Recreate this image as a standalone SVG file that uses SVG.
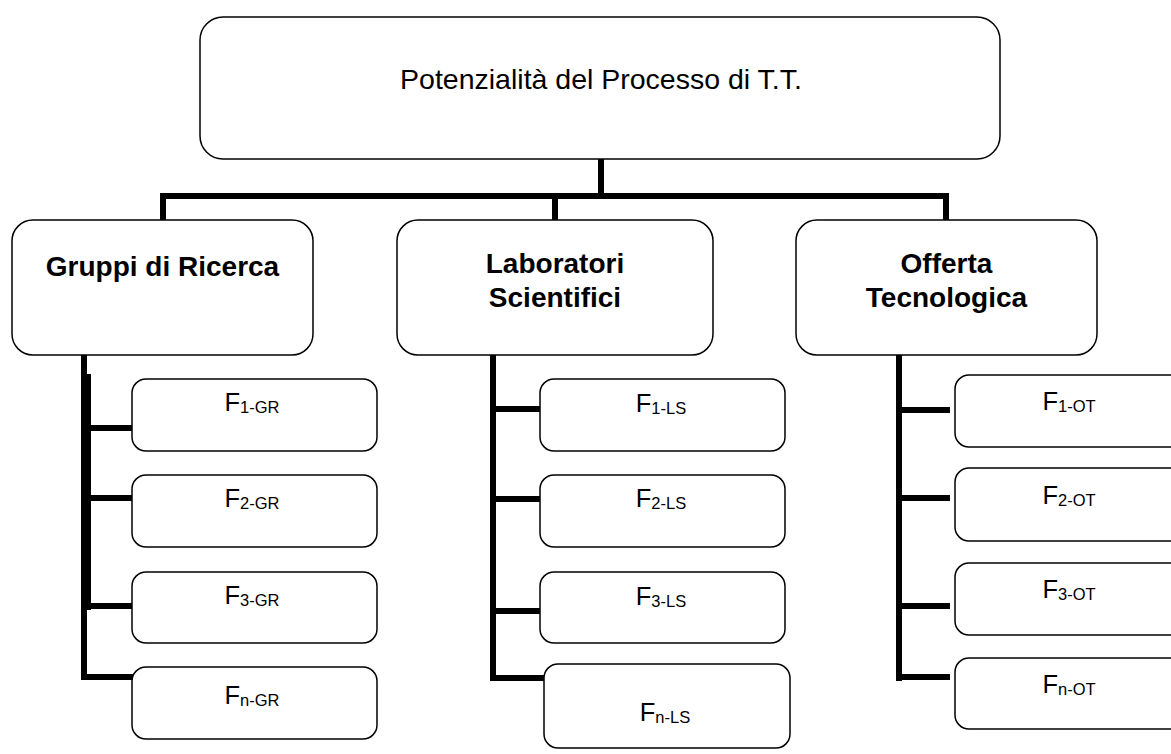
<svg xmlns="http://www.w3.org/2000/svg" width="1171" height="754" viewBox="0 0 1171 754">
  <style>
    .box { fill: #ffffff; stroke: #000000; stroke-width: 1.5; }
    .bar { fill: #000000; }
    .title { font-family: "Liberation Sans", Arial, sans-serif; font-size: 28.5px; fill: #000000; text-anchor: middle; }
    .head { font-family: "Liberation Sans", Arial, sans-serif; font-size: 28px; font-weight: bold; fill: #000000; text-anchor: middle; }
    .fac { font-family: "Liberation Sans", Arial, sans-serif; font-size: 25.5px; fill: #000000; text-anchor: middle; }
    .sub { font-size: 16.5px; }
  </style>
  <rect width="1171" height="754" fill="#ffffff"/>

  <!-- connectors: thick black elbow lines -->
  <g id="connectors">
    <!-- root to first level -->
    <rect class="bar" x="598" y="158" width="6" height="41"/>
    <rect class="bar" x="160" y="193" width="789" height="6"/>
    <rect class="bar" x="160" y="193" width="6" height="28"/>
    <rect class="bar" x="552" y="193" width="6" height="28"/>
    <rect class="bar" x="943" y="193" width="6" height="28"/>
    <!-- Gruppi di Ricerca branch -->
    <rect class="bar" x="81" y="355" width="6" height="325"/>
    <rect class="bar" x="85" y="374" width="6" height="236"/>
    <rect class="bar" x="88" y="425" width="50" height="6"/>
    <rect class="bar" x="88" y="495" width="46" height="6"/>
    <rect class="bar" x="85" y="603" width="53" height="6"/>
    <rect class="bar" x="81" y="674" width="53" height="6"/>
    <!-- Laboratori Scientifici branch -->
    <rect class="bar" x="490" y="355" width="6" height="326"/>
    <rect class="bar" x="490" y="406" width="53" height="6"/>
    <rect class="bar" x="490" y="496" width="53" height="6"/>
    <rect class="bar" x="490" y="608" width="53" height="6"/>
    <rect class="bar" x="490" y="675" width="54" height="6"/>
    <!-- Offerta Tecnologica branch -->
    <rect class="bar" x="896" y="355" width="6" height="326"/>
    <rect class="bar" x="896" y="407" width="54" height="6"/>
    <rect class="bar" x="896" y="495" width="54" height="6"/>
    <rect class="bar" x="896" y="603" width="54" height="6"/>
    <rect class="bar" x="896" y="674" width="54" height="6"/>
  </g>

  <!-- root -->
  <g id="root">
    <rect class="box" x="200" y="17" width="800" height="142" rx="23" ry="23"/>
    <text class="title" x="601" y="89">Potenzialità del Processo di T.T.</text>
  </g>

  <!-- first level -->
  <g id="gruppi">
    <rect class="box" x="12" y="220" width="301" height="135" rx="21" ry="21"/>
    <text class="head" x="162.5" y="276">Gruppi di Ricerca</text>
  </g>
  <g id="laboratori">
    <rect class="box" x="397" y="220" width="316" height="135" rx="21" ry="21"/>
    <text class="head" x="555" y="273">Laboratori</text>
    <text class="head" x="555" y="307">Scientifici</text>
  </g>
  <g id="offerta">
    <rect class="box" x="796" y="220" width="301" height="135" rx="21" ry="21"/>
    <text class="head" x="946.5" y="273">Offerta</text>
    <text class="head" x="946.5" y="307">Tecnologica</text>
  </g>

  <!-- factors: Gruppi di Ricerca -->
  <g id="f1-gr">
    <rect class="box" x="132" y="379" width="245" height="72" rx="14" ry="14"/>
    <text class="fac" x="252" y="411">F<tspan class="sub" dy="2">1-GR</tspan></text>
  </g>
  <g id="f2-gr">
    <rect class="box" x="132" y="475" width="245" height="72" rx="14" ry="14"/>
    <text class="fac" x="252" y="507">F<tspan class="sub" dy="2">2-GR</tspan></text>
  </g>
  <g id="f3-gr">
    <rect class="box" x="132" y="572" width="245" height="71" rx="14" ry="14"/>
    <text class="fac" x="252" y="604">F<tspan class="sub" dy="2">3-GR</tspan></text>
  </g>
  <g id="fn-gr">
    <rect class="box" x="132" y="667" width="245" height="72" rx="14" ry="14"/>
    <text class="fac" x="252" y="704">F<tspan class="sub" dy="2">n-GR</tspan></text>
  </g>

  <!-- factors: Laboratori Scientifici -->
  <g id="f1-ls">
    <rect class="box" x="540" y="379" width="245" height="72" rx="14" ry="14"/>
    <text class="fac" x="661" y="412">F<tspan class="sub" dy="2">1-LS</tspan></text>
  </g>
  <g id="f2-ls">
    <rect class="box" x="540" y="475" width="245" height="72" rx="14" ry="14"/>
    <text class="fac" x="661" y="507">F<tspan class="sub" dy="2">2-LS</tspan></text>
  </g>
  <g id="f3-ls">
    <rect class="box" x="540" y="572" width="245" height="71" rx="14" ry="14"/>
    <text class="fac" x="661" y="605">F<tspan class="sub" dy="2">3-LS</tspan></text>
  </g>
  <g id="fn-ls">
    <rect class="box" x="544" y="664" width="246" height="84" rx="14" ry="14"/>
    <text class="fac" x="665" y="721">F<tspan class="sub" dy="2">n-LS</tspan></text>
  </g>

  <!-- factors: Offerta Tecnologica -->
  <g id="f1-ot">
    <rect class="box" x="955" y="375" width="230" height="72" rx="14" ry="14"/>
    <text class="fac" x="1069" y="410">F<tspan class="sub" dy="2">1-OT</tspan></text>
  </g>
  <g id="f2-ot">
    <rect class="box" x="955" y="468" width="230" height="73" rx="14" ry="14"/>
    <text class="fac" x="1069" y="504">F<tspan class="sub" dy="2">2-OT</tspan></text>
  </g>
  <g id="f3-ot">
    <rect class="box" x="955" y="563" width="230" height="72" rx="14" ry="14"/>
    <text class="fac" x="1069" y="598">F<tspan class="sub" dy="2">3-OT</tspan></text>
  </g>
  <g id="fn-ot">
    <rect class="box" x="955" y="658" width="230" height="71" rx="14" ry="14"/>
    <text class="fac" x="1069" y="693">F<tspan class="sub" dy="2">n-OT</tspan></text>
  </g>
</svg>
